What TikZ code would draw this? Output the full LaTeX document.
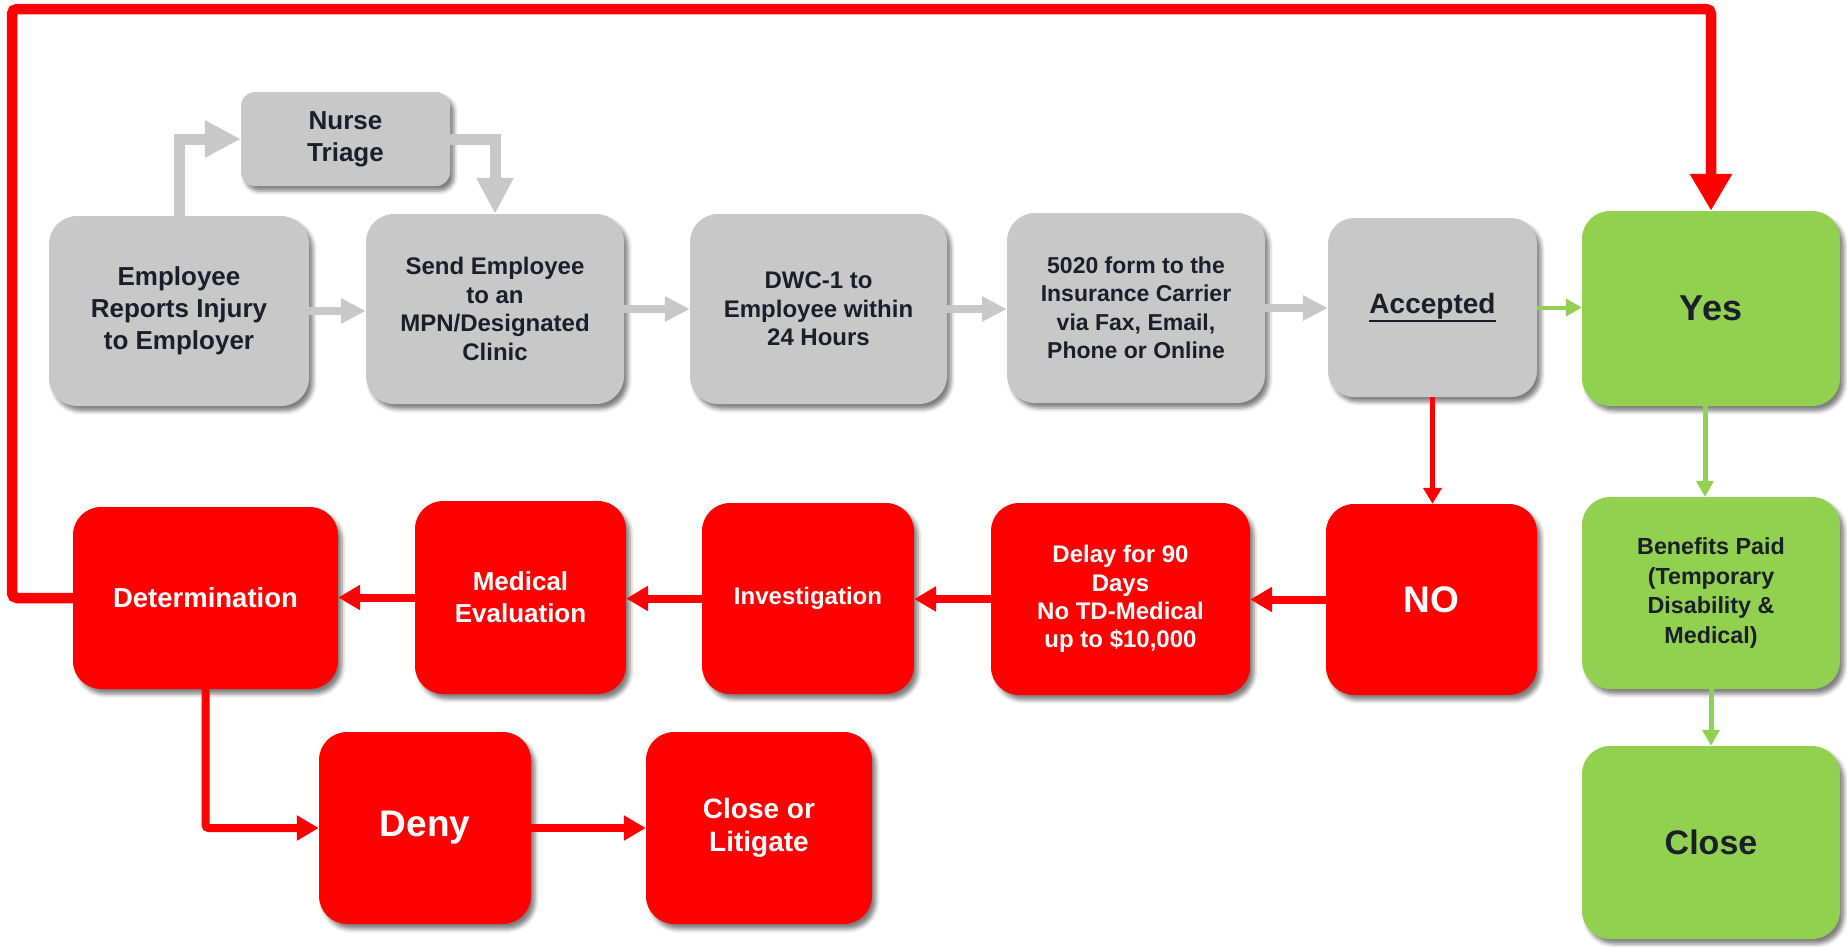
\documentclass[tikz,border=0pt]{standalone}
\usepackage{fontspec}
\setmainfont{Liberation Sans}
\usetikzlibrary{arrows.meta,shadows.blur}
\definecolor{gfill}{HTML}{C8C8C8}
\definecolor{rfill}{HTML}{FF0000}
\definecolor{grn}{HTML}{92D050}
\definecolor{ink}{HTML}{1B1F2A}
\newcommand\fz[2]{\fontsize{#1}{#2}\selectfont\bfseries}
\newcommand\myul[1]{\leavevmode\vtop{\hbox{#1}\kern0.5pt\hrule height 1.8pt}}
\begin{document}
\begin{tikzpicture}[x=1pt,y=-1pt,
  box/.style={rounded corners=28pt, align=center, inner sep=0pt,
    blur shadow={shadow xshift=4pt, shadow yshift=-5pt, shadow blur radius=4pt, shadow opacity=50}},
  gbox/.style={box, fill=gfill, text=ink},
  rbox/.style={box, fill=rfill, text=white},
  nbox/.style={box, fill=grn, text=ink},
  garrow/.style={draw=gfill, line width=8pt, -{Triangle[width=24pt,length=25pt]}},
  gbig/.style={draw=gfill, line width=11pt, -{Triangle[width=35pt,length=36pt]}},
  rarrow/.style={draw=rfill, line width=8pt, -{Triangle[width=24pt,length=22pt]}},
  rthin/.style={draw=rfill, line width=5pt, -{Triangle[width=18pt,length=16pt]}},
  rbig/.style={draw=rfill, line width=10.5pt, rounded corners=5pt, -{Triangle[width=40pt,length=37pt]}},
  narrow/.style={draw=grn, line width=5pt, -{Triangle[width=17pt,length=16pt]}},
]
\useasboundingbox (0,0) rectangle (1847,946);

% top row
\node[gbox, rounded corners=14pt, minimum width=209pt, minimum height=94pt, font=\fz{26}{32}] (nurse) at (345.5,139) {Nurse\\Triage};
\node[gbox, minimum width=260pt, minimum height=190pt, font=\fz{26}{32}] (emp) at (179,311) {Employee\\Reports Injury\\to Employer};
\node[gbox, minimum width=258pt, minimum height=190pt, font=\fz{24}{28.5}] (send) at (495,309) {Send Employee\\to an\\MPN/Designated\\Clinic};
\node[gbox, minimum width=257pt, minimum height=190pt, font=\fz{24}{28.5}] (dwc) at (818.5,309) {DWC-1 to\\Employee within\\24 Hours};
\node[gbox, minimum width=258pt, minimum height=190pt, font=\fz{23}{28.5}] (form) at (1136,308) {5020 form to the\\Insurance Carrier\\via Fax, Email,\\Phone or Online};
\node[gbox, rounded corners=26pt, minimum width=209pt, minimum height=179pt, font=\fz{28}{33}] (acc) at (1432.5,307.5) {\myul{Accepted}};

% green column
\node[nbox, minimum width=258pt, minimum height=195pt, font=\fz{36}{40}] (yes) at (1711,308.5) {Yes};
\node[nbox, minimum width=258pt, minimum height=192pt, font=\fz{23.3}{29.5}] (ben) at (1711,593) {Benefits Paid\\(Temporary\\Disability \&\\Medical)};
\node[nbox, minimum width=258pt, minimum height=193pt, font=\fz{34}{40}] (close) at (1711,842.5) {Close};

% red row
\node[rbox, minimum width=211pt, minimum height=191pt, font=\fz{37}{42}] (no) at (1431.5,599.5) {NO};
\node[rbox, minimum width=259pt, minimum height=192pt, font=\fz{24}{28.3}] (delay) at (1120.5,599) {Delay for 90\\Days\\No TD-Medical\\up to \$10,000};
\node[rbox, minimum width=212pt, minimum height=191pt, font=\fz{24}{28.5}] (inv) at (808,598.5) {Investigation};
\node[rbox, minimum width=211pt, minimum height=193pt, font=\fz{26}{32}] (med) at (520.5,597.5) {Medical\\Evaluation};
\node[rbox, minimum width=265pt, minimum height=182pt, font=\fz{27.5}{32}] (det) at (205.5,598) {Determination};
\node[rbox, minimum width=212pt, minimum height=192pt, font=\fz{37}{42}] (deny) at (425,828) {Deny};
\node[rbox, minimum width=226pt, minimum height=192pt, font=\fz{28}{33}] (lit) at (759,828) {Close or\\Litigate};

\coordinate (tl) at (12,9);

% gray connectors
\draw[gbig] (emp.north) |- (nurse.west);
\draw[gbig] (nurse.east) -| (send.north);
\draw[garrow] (emp.east) -- (emp.east -| send.west);
\draw[garrow] (send.east) -- (send.east -| dwc.west);
\draw[garrow] (dwc.east) -- (dwc.east -| form.west);
\draw[garrow] (form.east) -- (form.east -| acc.west);

% green connectors
\draw[narrow, line width=4pt] (acc.east) -- (acc.east -| yes.west);
\draw[narrow] ([xshift=-6pt]yes.south) -- ([xshift=-6pt]ben.north);
\draw[narrow] (ben.south) -- (close.north);

% red connectors
\draw[rthin] (acc.south) -- (acc.south |- no.north);
\draw[rarrow] (no.west) -- (no.west -| delay.east);
\draw[rarrow] (delay.west) -- (delay.west -| inv.east);
\draw[rarrow] (inv.west) -- (inv.west -| med.east);
\draw[rarrow] (med.west) -- (med.west -| det.east);
\draw[rarrow, rounded corners=3pt] (det.south) |- (deny.west);
\draw[rarrow] (deny.east) -- (deny.east -| lit.west);
\draw[rbig] (det.west) -| (tl) -| (yes.north);
\end{tikzpicture}
\end{document}
